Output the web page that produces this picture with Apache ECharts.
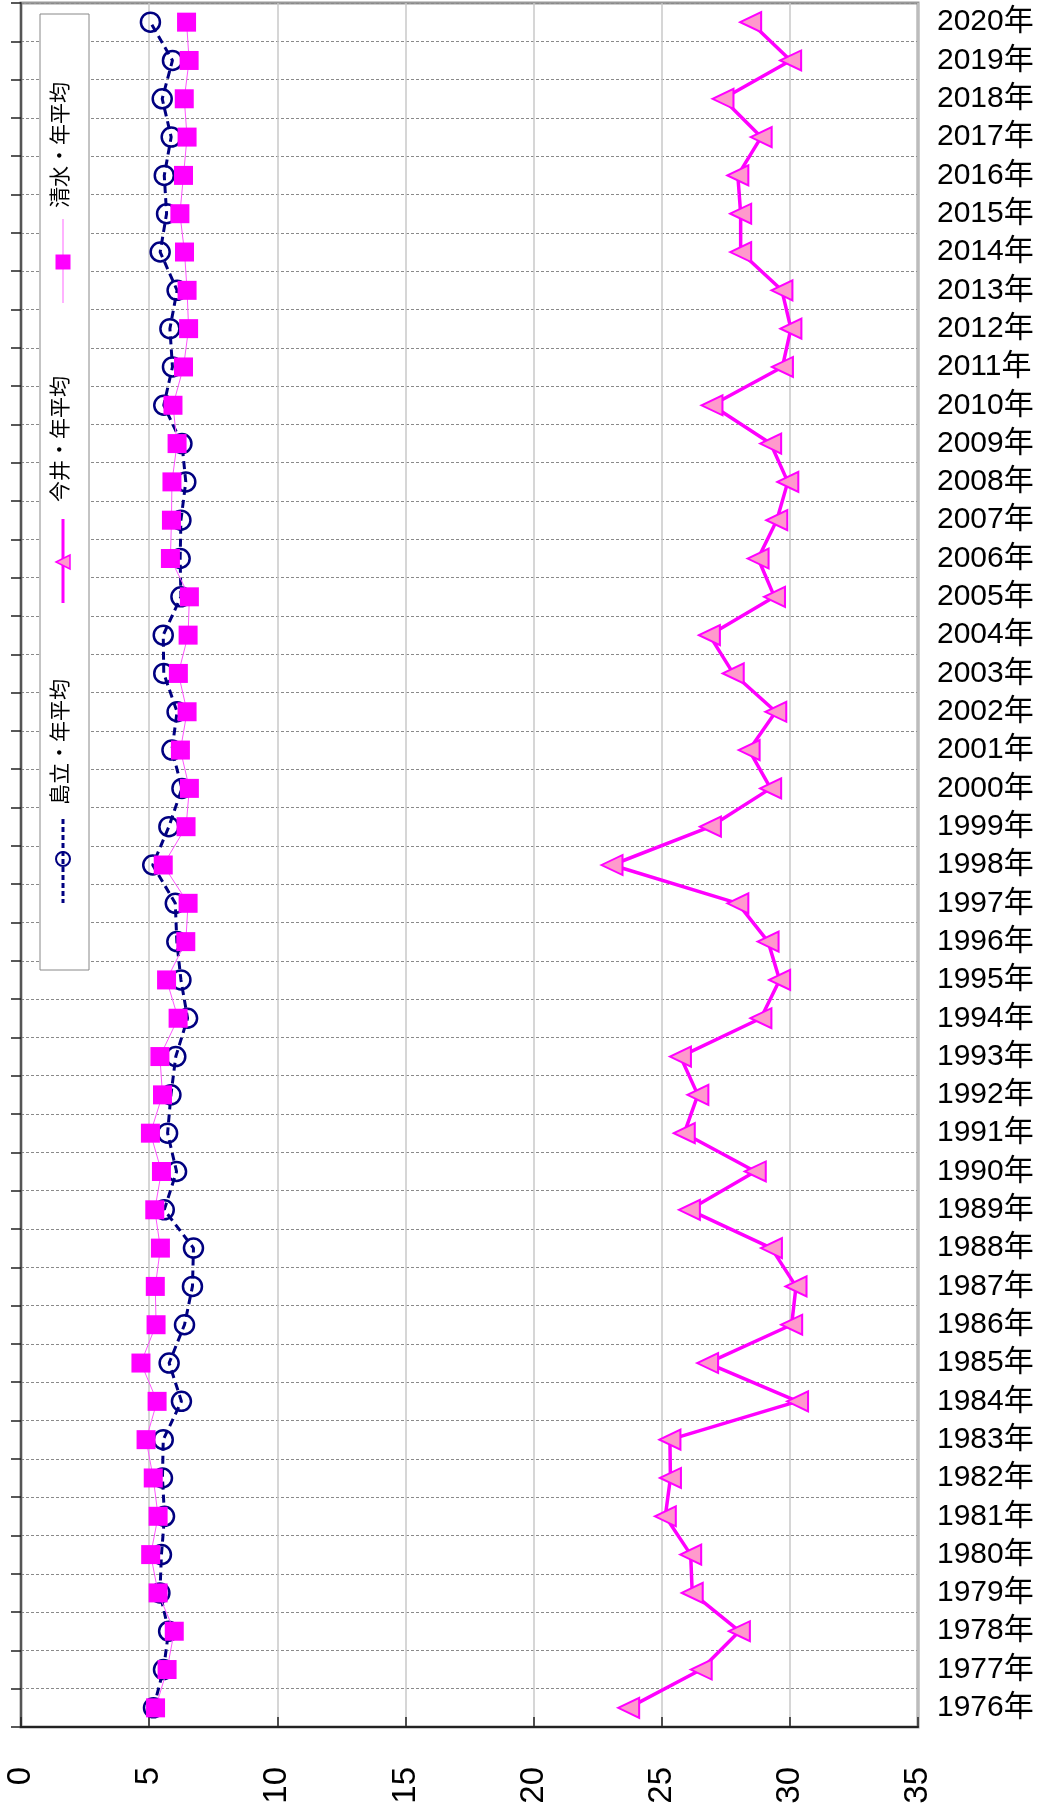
<!DOCTYPE html>
<html>
<head>
<meta charset="utf-8">
<title>年平均</title>
<script src="https://cdn.jsdelivr.net/npm/echarts@6/dist/echarts.min.js"></script>
<style>
  html, body { margin: 0; padding: 0; background: #fff; }
  #chart { width: 1046px; height: 1811px; }
</style>
</head>
<body>
<div id="chart"></div>
<script>
// 年 (下→上)
var years = [1976, 1977, 1978, 1979, 1980, 1981, 1982, 1983, 1984, 1985,
  1986, 1987, 1988, 1989, 1990, 1991, 1992, 1993, 1994, 1995,
  1996, 1997, 1998, 1999, 2000, 2001, 2002, 2003, 2004, 2005,
  2006, 2007, 2008, 2009, 2010, 2011, 2012, 2013, 2014, 2015,
  2016, 2017, 2018, 2019, 2020];
var yearLabels = years.map(function (y) { return y + '年'; });

// 島立・年平均
var shimadachi = [5.17, 5.56, 5.76, 5.42, 5.48, 5.60, 5.52, 5.55, 6.26, 5.78,
  6.38, 6.69, 6.73, 5.59, 6.07, 5.72, 5.85, 6.04, 6.50, 6.24,
  6.08, 6.02, 5.14, 5.77, 6.28, 5.89, 6.09, 5.57, 5.55, 6.24,
  6.21, 6.24, 6.43, 6.28, 5.57, 5.91, 5.81, 6.09, 5.43, 5.68,
  5.59, 5.86, 5.51, 5.91, 5.05];

// 今井・年平均
var imai = [23.71, 26.54, 28.03, 26.19, 26.13, 25.14, 25.34, 25.32, 30.30, 26.79,
  30.07, 30.24, 29.28, 26.08, 28.65, 25.88, 26.41, 25.73, 28.87, 29.60,
  29.15, 27.97, 23.06, 26.90, 29.25, 28.41, 29.45, 27.79, 26.86, 29.40,
  28.76, 29.49, 29.92, 29.25, 26.96, 29.71, 30.04, 29.69, 28.08, 28.08,
  27.97, 28.88, 27.39, 30.03, 28.47];

// 清水・年平均
var shimizu = [5.25, 5.70, 5.98, 5.35, 5.06, 5.35, 5.16, 4.88, 5.31, 4.68,
  5.27, 5.24, 5.44, 5.22, 5.48, 5.05, 5.52, 5.42, 6.13, 5.68,
  6.43, 6.52, 5.55, 6.44, 6.57, 6.22, 6.48, 6.14, 6.52, 6.57,
  5.83, 5.87, 5.89, 6.09, 5.93, 6.34, 6.54, 6.48, 6.38, 6.20,
  6.34, 6.48, 6.37, 6.56, 6.46];

var valueMin = 0, valueMax = 35, valueStep = 5;

var FONT = '"Liberation Sans", Arial, "Noto Sans CJK JP", sans-serif';
var NAVY = '#000080';
var MAGENTA = '#FF00FF';

var chart = echarts.init(document.getElementById('chart'), null, { renderer: 'canvas' });

// 凡例（回転表示）
function legendText(text, cy) {
  return {
    type: 'text', x: 61, y: cy, rotation: Math.PI / 2,
    style: {
      text: text, fill: '#000', font: '21px ' + FONT,
      align: 'center', verticalAlign: 'middle'
    }
  };
}

chart.setOption({
  animation: false,
  backgroundColor: '#fff',
  grid: {
    left: 21, top: 3, width: 897, height: 1724,
    show: true, borderColor: '#999', borderWidth: 3, backgroundColor: '#fff'
  },
  xAxis: {
    type: 'value',
    min: valueMin, max: valueMax, interval: valueStep,
    position: 'bottom',
    axisLine: { show: true, lineStyle: { color: '#222', width: 2 } },
    axisTick: { show: true, inside: true, length: 10, lineStyle: { color: '#222', width: 1.5 } },
    splitLine: { show: true, lineStyle: { color: '#c8c8c8', width: 1.5 } },
    axisLabel: {
      rotate: 90, margin: 40, fontSize: 33, color: '#000', fontFamily: FONT,
      hideOverlap: false
    }
  },
  yAxis: {
    type: 'category',
    data: yearLabels,
    position: 'right',
    boundaryGap: true,
    axisLine: { show: true, lineStyle: { color: '#555', width: 2 } },
    axisTick: { show: true, inside: true, length: 10, lineStyle: { color: '#222', width: 1.5 } },
    splitLine: { show: true, lineStyle: { color: '#8a8a8a', width: 1, type: [3, 2] } },
    axisLabel: {
      interval: 0, margin: 19, fontSize: 30, color: '#000', fontFamily: FONT,
      hideOverlap: false
    }
  },
  series: [
    {
      name: '島立・年平均',
      type: 'line',
      data: shimadachi,
      symbol: 'circle',
      symbolSize: 19,
      itemStyle: { color: 'rgba(0,0,0,0)', borderColor: NAVY, borderWidth: 2.5 },
      lineStyle: { color: NAVY, width: 3, type: [8, 5] },
      z: 2
    },
    {
      name: '今井・年平均',
      type: 'line',
      data: imai,
      symbol: 'triangle',
      symbolSize: [20, 21],
      symbolRotate: 90,
      itemStyle: { color: '#FF99CC', borderColor: MAGENTA, borderWidth: 2 },
      lineStyle: { color: MAGENTA, width: 3.5 },
      z: 3
    },
    {
      name: '清水・年平均',
      type: 'line',
      data: shimizu,
      symbol: 'rect',
      symbolSize: 19,
      itemStyle: { color: MAGENTA, borderWidth: 0 },
      lineStyle: { color: '#FF55FF', width: 1 },
      z: 4
    }
  ],
  graphic: [
    {
      type: 'rect', shape: { x: 40, y: 14, width: 49, height: 956 },
      style: { fill: '#fff', stroke: '#888', lineWidth: 1 }, z: 100
    },
    // 清水
    { type: 'line', shape: { x1: 63, y1: 219, x2: 63, y2: 303 }, style: { stroke: '#FF99FF', lineWidth: 1.5 }, z: 101 },
    { type: 'rect', shape: { x: 55.5, y: 254.5, width: 15, height: 15 }, style: { fill: MAGENTA }, z: 102 },
    legendText('清水・年平均', 145),
    // 今井
    { type: 'line', shape: { x1: 63, y1: 519, x2: 63, y2: 603 }, style: { stroke: MAGENTA, lineWidth: 3 }, z: 101 },
    { type: 'polygon', shape: { points: [[56, 562], [70, 555], [70, 569]] },
      style: { fill: '#FF99CC', stroke: MAGENTA, lineWidth: 1.5 }, z: 102 },
    legendText('今井・年平均', 439),
    // 島立
    { type: 'line', shape: { x1: 63, y1: 819, x2: 63, y2: 903 }, style: { stroke: NAVY, lineWidth: 3, lineDash: [5, 3] }, z: 101 },
    { type: 'circle', shape: { cx: 63, cy: 859, r: 7 }, style: { fill: 'rgba(0,0,0,0)', stroke: NAVY, lineWidth: 2 }, z: 102 },
    legendText('島立・年平均', 742)
  ].map(function (g) { if (g.z === undefined) g.z = 103; return g; })
});
</script>
</body>
</html>
